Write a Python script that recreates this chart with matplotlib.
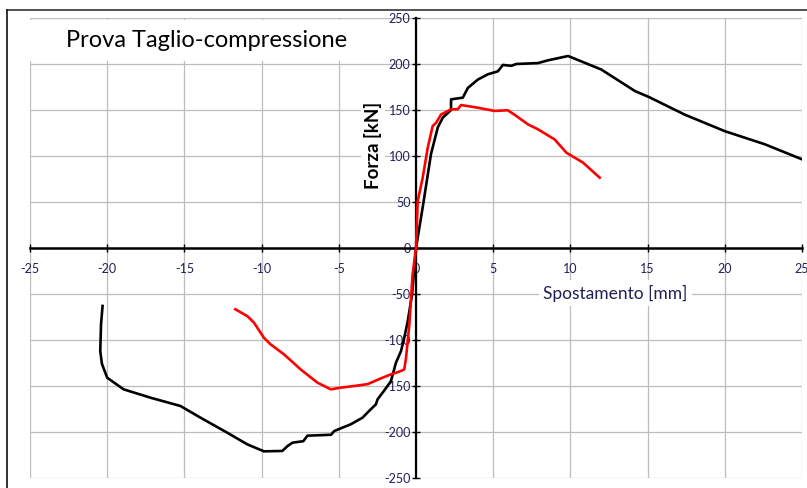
import matplotlib.pyplot as plt
from matplotlib.lines import Line2D
from matplotlib.patches import Rectangle

# black test curve (displacement mm, force kN)
black_x = [-20.3, -20.4, -20.45, -20.34, -20.0, -18.94, -17.2, -15.26, -13.96, -12.23, -10.93,
           -9.85, -8.66, -8.3, -8.0, -7.3, -7.03, -5.5, -5.3, -4.87, -4.22, -3.46, -3.03, -2.6,
           -2.49, -2.06, -1.62, -1.3, -0.97, -0.76, -0.54, -0.25, 0.0,
           0.43, 0.97, 1.41, 1.73, 2.27, 2.27, 3.03, 3.36, 4.0, 4.65, 5.3, 5.63, 6.17, 6.49,
           7.9, 8.55, 9.85, 12.0, 14.18, 15.1, 17.4, 20.0, 22.6, 25.0]
black_y = [-63, -83, -112, -126, -141, -153.6, -162.7, -171.7, -184.4, -200.7, -213.4,
           -221, -220.6, -215, -211.6, -210, -204, -203, -199, -196, -191.6, -184.4, -177, -170,
           -164.5, -155, -144.6, -124.7, -112, -97.5, -80, -50, 0,
           43.8, 102, 131, 141.6, 150, 161.6, 163.4, 174, 183, 188.8, 192, 199, 198, 200,
           201, 204, 208.7, 194, 170.6, 164, 145, 127, 112.7, 96.4]

# red test curve
red_x = [-11.7, -10.93, -10.5, -9.85, -9.42, -8.55, -7.47, -6.38, -5.52, -4.87, -4.0, -3.14,
         -2.27, -1.62, -1.08, -0.76, -0.65, -0.43, -0.22, 0.0,
         0.11, 0.43, 0.76, 1.08, 1.3, 1.62, 2.27, 2.7, 2.92, 4.0, 5.08, 5.95, 6.5, 7.25, 7.9,
         8.98, 9.74, 10.82, 11.9]
red_y = [-66.6, -74, -81, -97.5, -104.7, -115.6, -132, -146.4, -153.6, -151.8, -150, -148,
         -141.7, -137.3, -134.4, -132, -120, -83, -28.6, 0,
         51, 76, 109, 132.6, 136, 145, 150.8, 150.8, 155.4, 152.5, 149, 149.7, 143.5, 134.4, 129,
         118, 103.6, 92.8, 76.4]

x_ticks = [-25, -20, -15, -10, -5, 0, 5, 10, 15, 20, 25]
y_ticks = [-250, -200, -150, -100, -50, 0, 50, 100, 150, 200, 250]

txt = '#1e2155'
plt.rcParams['font.family'] = ['Lato', 'DejaVu Sans']
plt.rcParams['axes.unicode_minus'] = False

fig = plt.figure(figsize=(8.07, 4.88), dpi=100)
ax = fig.add_axes([30 / 807, 1 - 478 / 488, 772 / 807, 460 / 488])

ax.plot(black_x, black_y, color='black', lw=1.9, zorder=3)
ax.plot(red_x, red_y, color='#ff0000', lw=1.9, zorder=4)

ax.set_xlim(-25, 25)
ax.set_ylim(-250, 250)
ax.set_xticks(x_ticks)
ax.set_yticks(y_ticks)
ax.grid(True, color='#bdbdbd', lw=0.9)
ax.set_axisbelow(True)

ax.spines['left'].set_position('zero')
ax.spines['bottom'].set_position('zero')
ax.spines['left'].set_linewidth(1.6)
ax.spines['bottom'].set_linewidth(1.8)
ax.spines['top'].set_visible(False)
ax.spines['right'].set_visible(False)
ax.tick_params(axis='y', direction='inout', length=6, width=1, labelsize=9, labelcolor=txt, pad=1)
ax.tick_params(axis='x', direction='inout', length=6, width=1, labelsize=9, labelcolor=txt, pad=8)

# white box behind title
ax.add_patch(Rectangle((0, 0.907), 0.424, 0.088, transform=ax.transAxes,
                       facecolor='white', edgecolor='none', zorder=1))
ax.text(0.046, 0.951, 'Prova Taglio-compressione', transform=ax.transAxes,
        fontsize=17, color='black', ha='left', va='center', zorder=5)

ax.text(-2.8, 111, 'Forza [kN]', rotation=90, fontsize=13.5, fontweight='bold', color='black',
        ha='center', va='center', zorder=5,
        bbox=dict(facecolor='white', edgecolor='none', pad=2))
ax.text(12.9, -49, 'Spostamento [mm]', fontsize=12.5, color=txt, ha='center', va='center', zorder=5,
        bbox=dict(facecolor='white', edgecolor='none', pad=3))

# outer frame lines
fig.add_artist(Line2D([7 / 807, 1], [1 - 10 / 488] * 2, transform=fig.transFigure, color='#333333', lw=1.2))
fig.add_artist(Line2D([7 / 807] * 2, [0, 1 - 10 / 488], transform=fig.transFigure, color='#111111', lw=1.2))

fig.savefig('out.png', dpi=100)
